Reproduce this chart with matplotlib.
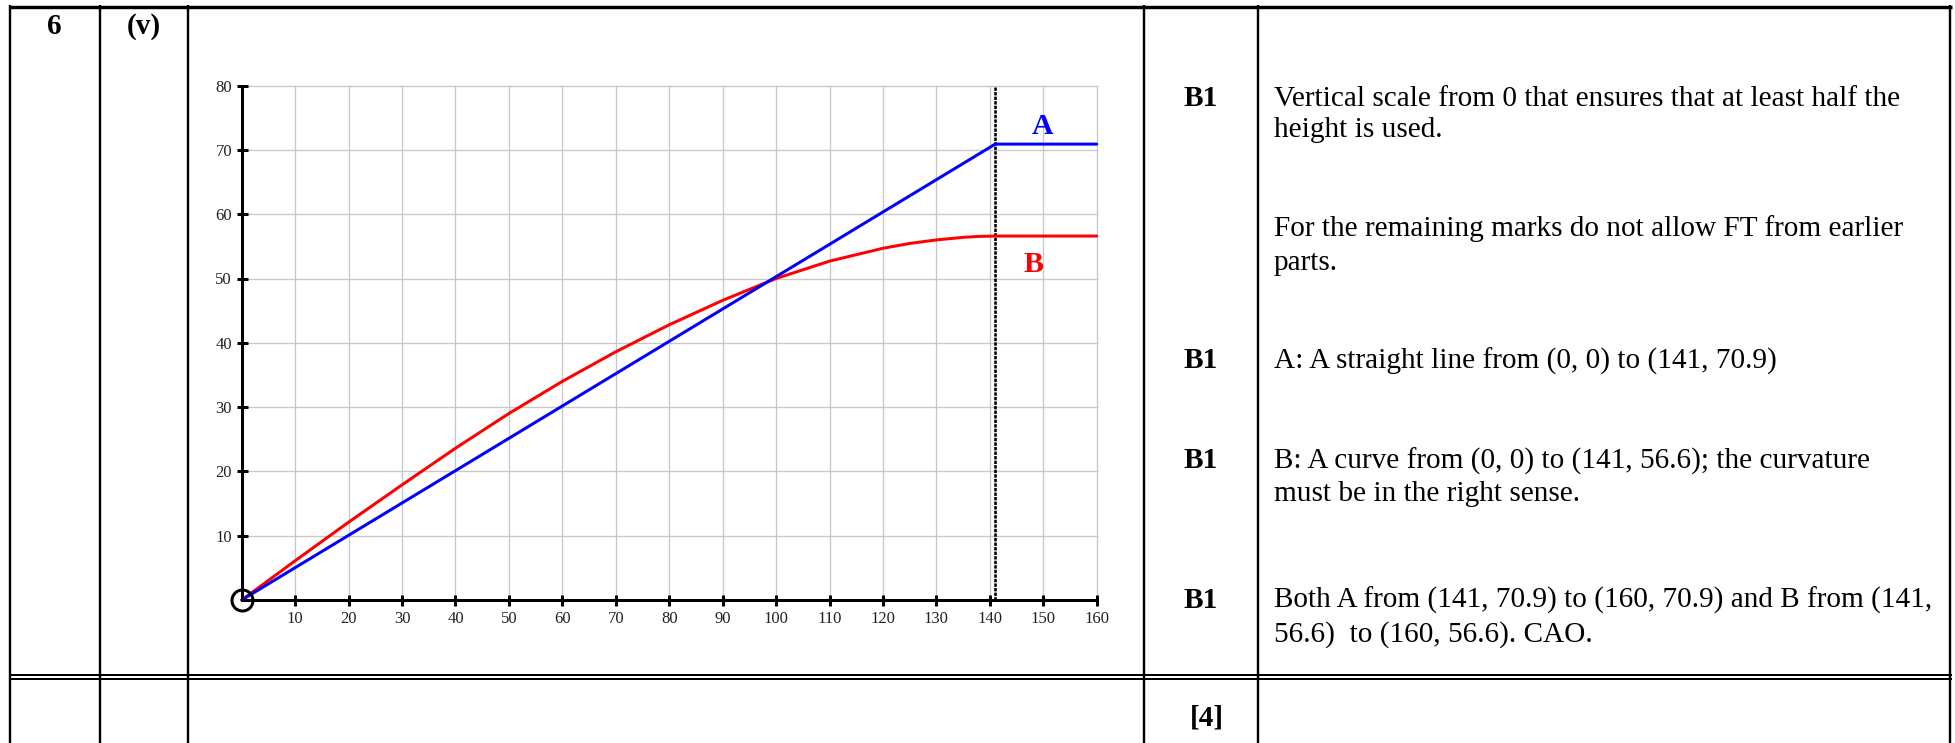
import matplotlib
matplotlib.use("Agg")
import matplotlib.pyplot as plt

# ---------------- data ----------------
x_ticks = [10, 20, 30, 40, 50, 60, 70, 80, 90, 100, 110, 120, 130, 140, 150, 160]
y_ticks = [10, 20, 30, 40, 50, 60, 70, 80]

a_x = [0, 141, 160]
a_y = [0, 70.9, 70.9]

b_x = [0, 10, 20, 30, 40, 50, 60, 70, 80, 90, 100, 110, 120, 125, 130, 135, 138, 141, 160]
b_y = [0, 6.1, 12.1, 17.9, 23.6, 29.0, 34.0, 38.6, 42.8, 46.6, 50.0, 52.7, 54.7,
       55.45, 56.0, 56.4, 56.55, 56.6, 56.6]

t_cut = 141

question = "6"
part = "(v)"
marks = ["B1", "B1", "B1", "B1"]
guidance = [
    ["Vertical scale from 0 that ensures that at least half the", "height is used."],
    ["For the remaining marks do not allow FT from earlier", "parts."],
    ["A: A straight line from (0, 0) to (141, 70.9)"],
    ["B: A curve from (0, 0) to (141, 56.6); the curvature", "must be in the right sense."],
    ["Both A from (141, 70.9) to (160, 70.9) and B from (141,", "56.6)  to (160, 56.6). CAO."],
]
total = "[4]"

# ---------------- figure ----------------
W, H = 1955, 743
fig = plt.figure(figsize=(W / 100, H / 100), dpi=100)
SERIF = ["Liberation Serif", "DejaVu Serif"]

bg = fig.add_axes([0, 0, 1, 1])
bg.set_xlim(0, W)
bg.set_ylim(H, 0)
bg.axis("off")

px = 0.72  # points per pixel
# table lines
bg.plot([9, 1952], [6.5, 6.5], color="black", lw=3.4 * px, solid_capstyle="butt")
for xv in [10.5, 100, 188, 1144, 1258, 1950.5]:
    bg.plot([xv, xv], [5, H], color="black", lw=2.4 * px, solid_capstyle="butt")
for yv in [675, 678.8]:
    bg.plot([9, 1952], [yv, yv], color="black", lw=2.0 * px, solid_capstyle="butt")

FS = 21.1
bg.text(54, 27, question, fontsize=FS, fontweight="bold", family=SERIF, ha="center", va="center")
bg.text(144, 27, part, fontsize=FS, fontweight="bold", family=SERIF, ha="center", va="center")

line_rows = [(99, 130), (229, 263), (361,), (461, 494), (600, 635)]
mark_rows = [99, 361, 461, 600]
for m, yv in zip(marks, mark_rows):
    bg.text(1201, yv, m, fontsize=FS, fontweight="bold", family=SERIF, ha="center", va="center")
for lines, ys in zip(guidance, line_rows):
    for s, yv in zip(lines, ys):
        bg.text(1274, yv, s, fontsize=FS, family=SERIF, ha="left", va="center")
bg.text(1207, 718, total, fontsize=FS, fontweight="bold", family=SERIF, ha="center", va="center")

# ---------------- chart ----------------
x0, x1 = 241.7, 1096.7
y0, y1 = 600.0, 85.6
ax = fig.add_axes([x0 / W, (H - y0) / H, (x1 - x0) / W, (y0 - y1) / H])
ax.set_xlim(0, 160)
ax.set_ylim(0, 80)
ax.patch.set_alpha(0)

grid_c = "#c8c8c8"
for xv in x_ticks:
    ax.plot([xv, xv], [0, 80], color=grid_c, lw=1.3 * px, zorder=1, clip_on=False)
for yv in y_ticks:
    ax.plot([0, 160], [yv, yv], color=grid_c, lw=1.3 * px, zorder=1, clip_on=False)

for s in ["top", "right"]:
    ax.spines[s].set_visible(False)
for s in ["left", "bottom"]:
    ax.spines[s].set_linewidth(3 * px)
    ax.spines[s].set_color("black")
    ax.spines[s].set_zorder(5)

ax.set_xticks(x_ticks)
ax.set_xticklabels([str(v) for v in x_ticks])
ax.set_yticks(y_ticks)
ax.set_yticklabels([str(v) for v in y_ticks])
ax.tick_params(axis="both", direction="inout", length=11 * px, width=3 * px,
               labelsize=12, colors="black", labelcolor="#222222")
ax.tick_params(axis="x", pad=4.0)
ax.tick_params(axis="y", pad=3.0)
for lab in ax.get_xticklabels() + ax.get_yticklabels():
    lab.set_family(SERIF)

ax.plot([t_cut, t_cut], [0, 80], color="black", lw=2.6 * px,
        linestyle=(0, (1.3, 0.45)), zorder=3, clip_on=False)

ax.plot(b_x, b_y, color="#ff0000", lw=3 * px, zorder=4, clip_on=False,
        solid_joinstyle="round", solid_capstyle="round")
ax.plot(a_x, a_y, color="#0000ff", lw=3 * px, zorder=4, clip_on=False,
        solid_joinstyle="round", solid_capstyle="round")

ax.plot([0], [0], marker="o", ms=21 * px, mfc="none", mec="black", mew=3 * px,
        zorder=6, clip_on=False)

ax.text(149.8, 73.6, "A", color="#0000ff", fontsize=21.5, fontweight="bold",
        family=SERIF, ha="center", va="center")
ax.text(148.1, 52.1, "B", color="#ff0000", fontsize=21.5, fontweight="bold",
        family=SERIF, ha="center", va="center")

fig.savefig("out.png", dpi=100)
